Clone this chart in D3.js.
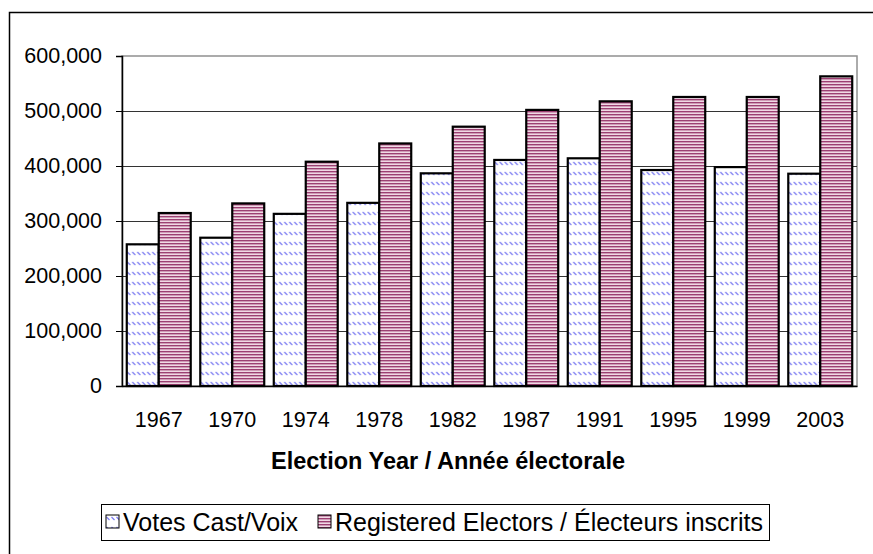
<!DOCTYPE html>
<html>
<head>
<meta charset="utf-8">
<script src="https://cdn.jsdelivr.net/npm/d3@7"></script>
<style>
  body { margin: 0; background: #fff; }
  svg { display: block; font-family: "Liberation Sans", Arial, sans-serif; }
</style>
</head>
<body>
<script>
// chart data
var years = ["1967", "1970", "1974", "1978", "1982", "1987", "1991", "1995", "1999", "2003"];
var votesCast = [257600, 269600, 313000, 333000, 386700, 411000, 414000, 392700, 398000, 386000];
var registered = [314500, 332000, 407800, 441000, 471500, 502000, 517600, 525500, 525500, 563000];
var seriesNames = ["Votes Cast/Voix", "Registered Electors / Électeurs inscrits"];
var yTicks = [0, 100000, 200000, 300000, 400000, 500000, 600000];
var xTitle = "Election Year / Année électorale";

var width = 873, height = 554;
// plot area edges
var plotL = 122, plotR = 857, plotT = 56, plotB = 386;

var svg = d3.select("body").append("svg")
    .attr("width", width)
    .attr("height", height);

// fill patterns
var defs = svg.append("defs");
var pv = defs.append("pattern")
    .attr("id", "votes")
    .attr("patternUnits", "userSpaceOnUse")
    .attr("width", 5).attr("height", 10);
pv.append("rect").attr("width", 5).attr("height", 10).attr("fill", "#fff");
pv.append("line")
    .attr("x1", 0.5).attr("y1", 2).attr("x2", 3.5).attr("y2", 5)
    .attr("stroke", "#7c7cf2").attr("stroke-width", 1.3);

var pr = defs.append("pattern")
    .attr("id", "reg")
    .attr("patternUnits", "userSpaceOnUse")
    .attr("width", 6).attr("height", 3);
pr.append("rect").attr("width", 6).attr("height", 3).attr("fill", "#f0d8e4");
pr.append("rect").attr("y", 0).attr("width", 6).attr("height", 1.4).attr("fill", "#9c3f72");

// outer border (only top and left show in the frame)
svg.append("rect")
    .attr("x", 9.5).attr("y", 12.5)
    .attr("width", 900).attr("height", 600)
    .attr("fill", "none")
    .attr("stroke", "#000")
    .attr("stroke-width", 1.5);

var x0 = d3.scaleBand()
    .domain(years)
    .range([plotL, plotR])
    .paddingInner(0.13)
    .paddingOuter(0.065);

var x1 = d3.scaleBand()
    .domain([0, 1])
    .range([0, x0.bandwidth()]);

var y = d3.scaleLinear()
    .domain([0, 600000])
    .range([plotB, plotT]);

// plot area frame
svg.append("rect")
    .attr("x", plotL).attr("y", plotT)
    .attr("width", plotR - plotL).attr("height", plotB - plotT)
    .attr("fill", "#fff")
    .attr("stroke", "#909090")
    .attr("stroke-width", 1.5);

// gridlines
svg.append("g")
    .selectAll("line")
    .data(yTicks.slice(1, -1))
    .enter().append("line")
    .attr("x1", plotL).attr("x2", plotR)
    .attr("y1", function(d) { return Math.round(y(d)) + 0.5; })
    .attr("y2", function(d) { return Math.round(y(d)) + 0.5; })
    .attr("stroke", "#333")
    .attr("stroke-width", 1);

// bars
var groups = svg.append("g")
    .selectAll("g")
    .data(years)
    .enter().append("g")
    .attr("transform", function(d) { return "translate(" + x0(d) + ",0)"; });

groups.selectAll("rect")
    .data(function(d, i) { return [votesCast[i], registered[i]]; })
    .enter().append("rect")
    .attr("x", function(d, j) { return x1(j); })
    .attr("y", function(d) { return y(d); })
    .attr("width", x1.bandwidth())
    .attr("height", function(d) { return plotB - y(d); })
    .attr("fill", function(d, j) { return j === 0 ? "url(#votes)" : "url(#reg)"; })
    .attr("stroke", "#000")
    .attr("stroke-width", 2.2);

// y axis
var yAxis = svg.append("g")
    .attr("transform", "translate(" + plotL + ",0)")
    .call(d3.axisLeft(y)
        .tickValues(yTicks)
        .tickSize(6)
        .tickPadding(14)
        .tickFormat(d3.format(",")));
yAxis.select(".domain").attr("stroke", "#000").attr("stroke-width", 1.5);
yAxis.selectAll(".tick line").attr("stroke", "#000");
yAxis.selectAll("text")
    .attr("font-size", 21.5)
    .attr("fill", "#000")
    .attr("font-family", "Liberation Sans, Arial, sans-serif");

// x axis
var xAxis = svg.append("g")
    .attr("transform", "translate(0," + plotB + ")")
    .call(d3.axisBottom(x0).tickSize(0).tickPadding(26));
xAxis.select(".domain").attr("stroke", "#000").attr("stroke-width", 1.5);
xAxis.selectAll("text")
    .attr("font-size", 21.5)
    .attr("fill", "#000")
    .attr("font-family", "Liberation Sans, Arial, sans-serif");

// x title
svg.append("text")
    .attr("x", 448)
    .attr("y", 469)
    .attr("text-anchor", "middle")
    .attr("font-size", 23.5)
    .attr("font-weight", "bold")
    .text(xTitle);

// legend
var legend = svg.append("g");
legend.append("rect")
    .attr("x", 101.5).attr("y", 504.5)
    .attr("width", 668).attr("height", 36)
    .attr("fill", "#fff")
    .attr("stroke", "#000")
    .attr("stroke-width", 1);

var legendX = [106, 318];
var item = legend.selectAll(".item")
    .data(seriesNames)
    .enter().append("g")
    .attr("class", "item")
    .attr("transform", function(d, i) { return "translate(" + legendX[i] + ",515)"; });
item.append("rect")
    .attr("width", 13).attr("height", 13)
    .attr("fill", function(d, i) { return i === 0 ? "url(#votes)" : "url(#reg)"; })
    .attr("stroke", "#000")
    .attr("stroke-width", 1);
item.append("text")
    .attr("x", 17)
    .attr("y", 16)
    .attr("font-size", 25)
    .text(function(d) { return d; });
</script>
</body>
</html>
